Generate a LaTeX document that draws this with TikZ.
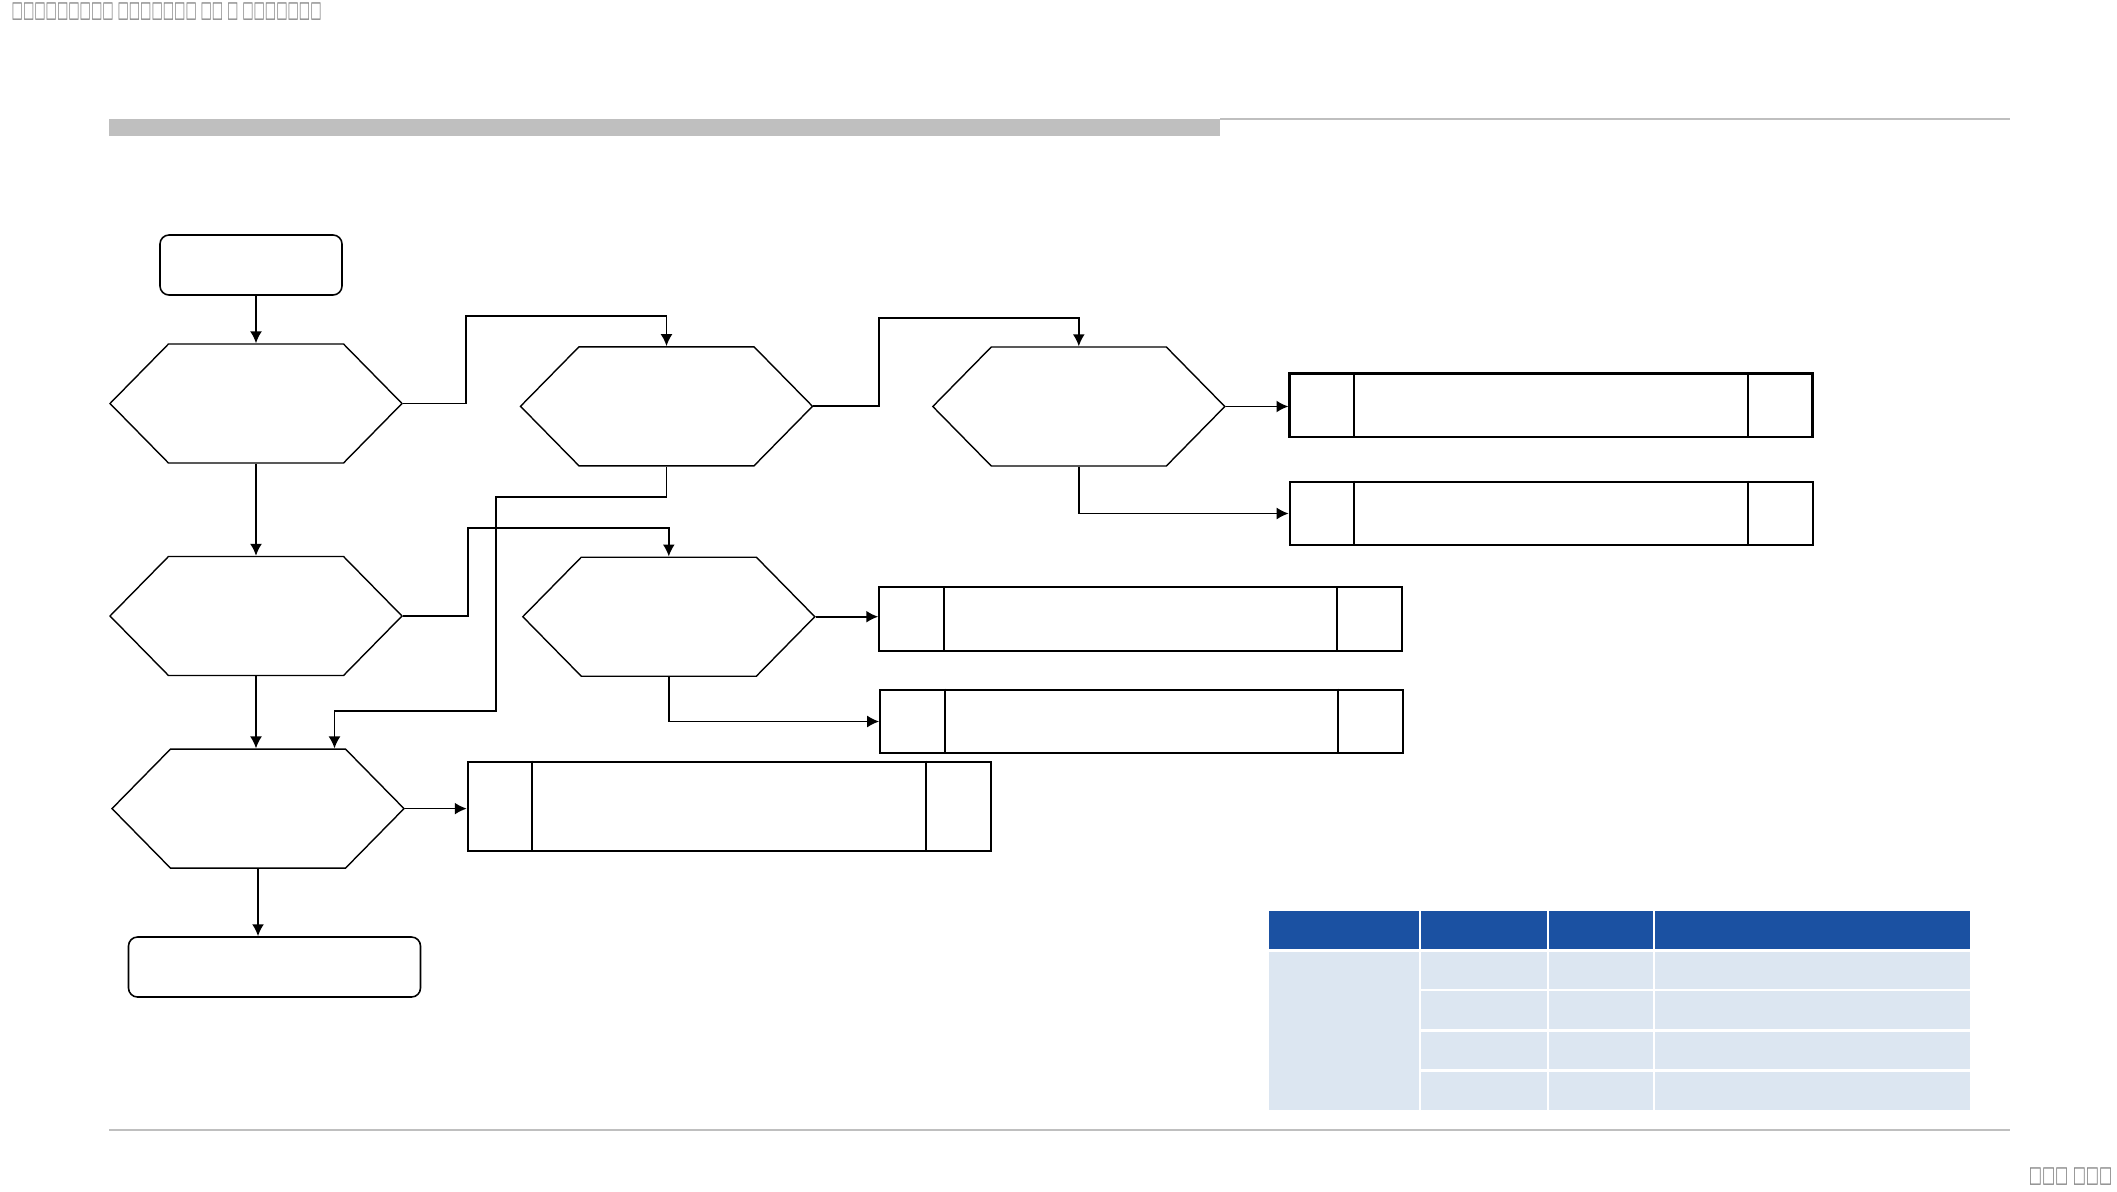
\documentclass[tikz,border=0pt]{standalone}
\usepackage{fontspec}
\newfontfamily\boxfont{DejaVu Sans}
\usetikzlibrary{arrows.meta,shapes.symbols,positioning}

\definecolor{headblue}{RGB}{27,81,162}
\definecolor{cellblue}{RGB}{220,230,241}
\definecolor{rulegray}{RGB}{191,191,191}
\definecolor{notegray}{RGB}{128,128,128}

\tikzset{
  hexbox/.style={signal, signal to=west and east, signal from=nowhere,
    signal pointer angle=91, draw, line width=0.4pt, inner sep=0pt,
    minimum width=29.2mm, minimum height=11.9mm},
  termbox/.style={draw, rounded corners=0.9mm, line width=0.45pt, inner sep=0pt,
    minimum height=6mm},
  recbox/.style={draw, line width=0.6pt, inner sep=0pt, minimum width=52.3mm,
    minimum height=6.35mm},
  link/.style={line width=0.5pt},
  arr/.style={link, -{Latex[length=3.4pt,width=3.4pt]}},
}

\begin{document}
\begin{tikzpicture}[x=0.1mm, y=-0.1mm]
\useasboundingbox (0,0) rectangle (2117,1191);

% header and footer
\node[anchor=west, inner sep=0pt, text=notegray] (title) at (11,12)
  {\boxfont\fontsize{6.5}{7}\selectfont\scalebox{0.525}[1]{□□□□□□□□□ □□□□□□□ □□ □ □□□□□□□}};
\node[anchor=east, inner sep=0pt, text=notegray] (pageno) at (2113,1177)
  {\boxfont\fontsize{6.5}{7}\selectfont\scalebox{0.61}[1]{□□□ □□□}};
\fill[rulegray] (109,119) rectangle (1220,136);
\draw[rulegray, line width=0.5pt] (1220,119) -- (2010,119);
\draw[rulegray, line width=0.5pt] (109,1130) -- (2010,1130);

% flow
\node[termbox, minimum width=18.2mm] (start) at (251,265) {};
\node[hexbox] (A) at (256,403.5) {};
\node[hexbox] (B) at (666.5,406.3) {};
\node[hexbox] (C) at (1078.8,406.5) {};
\node[hexbox] (D) at (256,616) {};
\node[hexbox] (E) at (668.8,616.7) {};
\node[hexbox] (F) at (258,808.6) {};
\node[termbox, minimum width=29.2mm] (stop) at (274.5,967) {};

% result boxes
\node[recbox] (r1) at (1551,405.2) {};
\node[recbox] (r2) at (1551.2,513.5) {};
\node[recbox] (r3) at (1140.8,618.8) {};
\node[recbox] (r4) at (1141.7,721.5) {};
\node[recbox, minimum height=8.93mm] (r5) at (729.3,806.4) {};
\foreach \r in {r1,r2,r3,r4,r5} {
  \draw[line width=0.6pt] ([xshift=6.55mm]\r.north west) -- ([xshift=6.55mm]\r.south west);
  \draw[line width=0.6pt] ([xshift=-6.6mm]\r.north east) -- ([xshift=-6.6mm]\r.south east);
}

% connectors
\coordinate (ab) at (466,316);
\coordinate (bc) at (879,318);
\coordinate (de) at (468,528);
\coordinate (bf1) at (496,497);
\coordinate (bf2) at (334.5,711);

\draw[arr] (start.south -| A.north) -- (A.north);
\draw[arr] (A.east) -| (ab) -| (B.north);
\draw[arr] (B.east) -| (bc) -| (C.north);
\draw[arr] (C.east) -- (C.east -| r1.west);
\draw[arr] (C.south) |- (r2.west);
\draw[arr] (A.south) -- (D.north);
\draw[arr] (B.south) |- (bf1) |- (bf2) -- (bf2 |- F.north);
\draw[arr] (D.east) -| (de) -| (E.north);
\draw[arr] (E.east) -- (E.east -| r3.west);
\draw[arr] (E.south) |- (r4.west);
\draw[arr] (D.south) -- (D.south |- F.north);
\draw[arr] (F.east) -- (F.east -| r5.west);
\draw[arr] (F.south) -- (F.south |- stop.north);

% table
\foreach \xa/\xb in {1269/1419,1421/1547,1549/1653,1655/1970}
  \fill[headblue] (\xa,911) rectangle (\xb,949);
\fill[cellblue] (1269,952) rectangle (1419,1110);
\foreach \ya/\yb in {952/989,991/1029,1032/1069,1072/1110}
  \foreach \xa/\xb in {1421/1547,1549/1653,1655/1970}
    \fill[cellblue] (\xa,\ya) rectangle (\xb,\yb);
\end{tikzpicture}
\end{document}
